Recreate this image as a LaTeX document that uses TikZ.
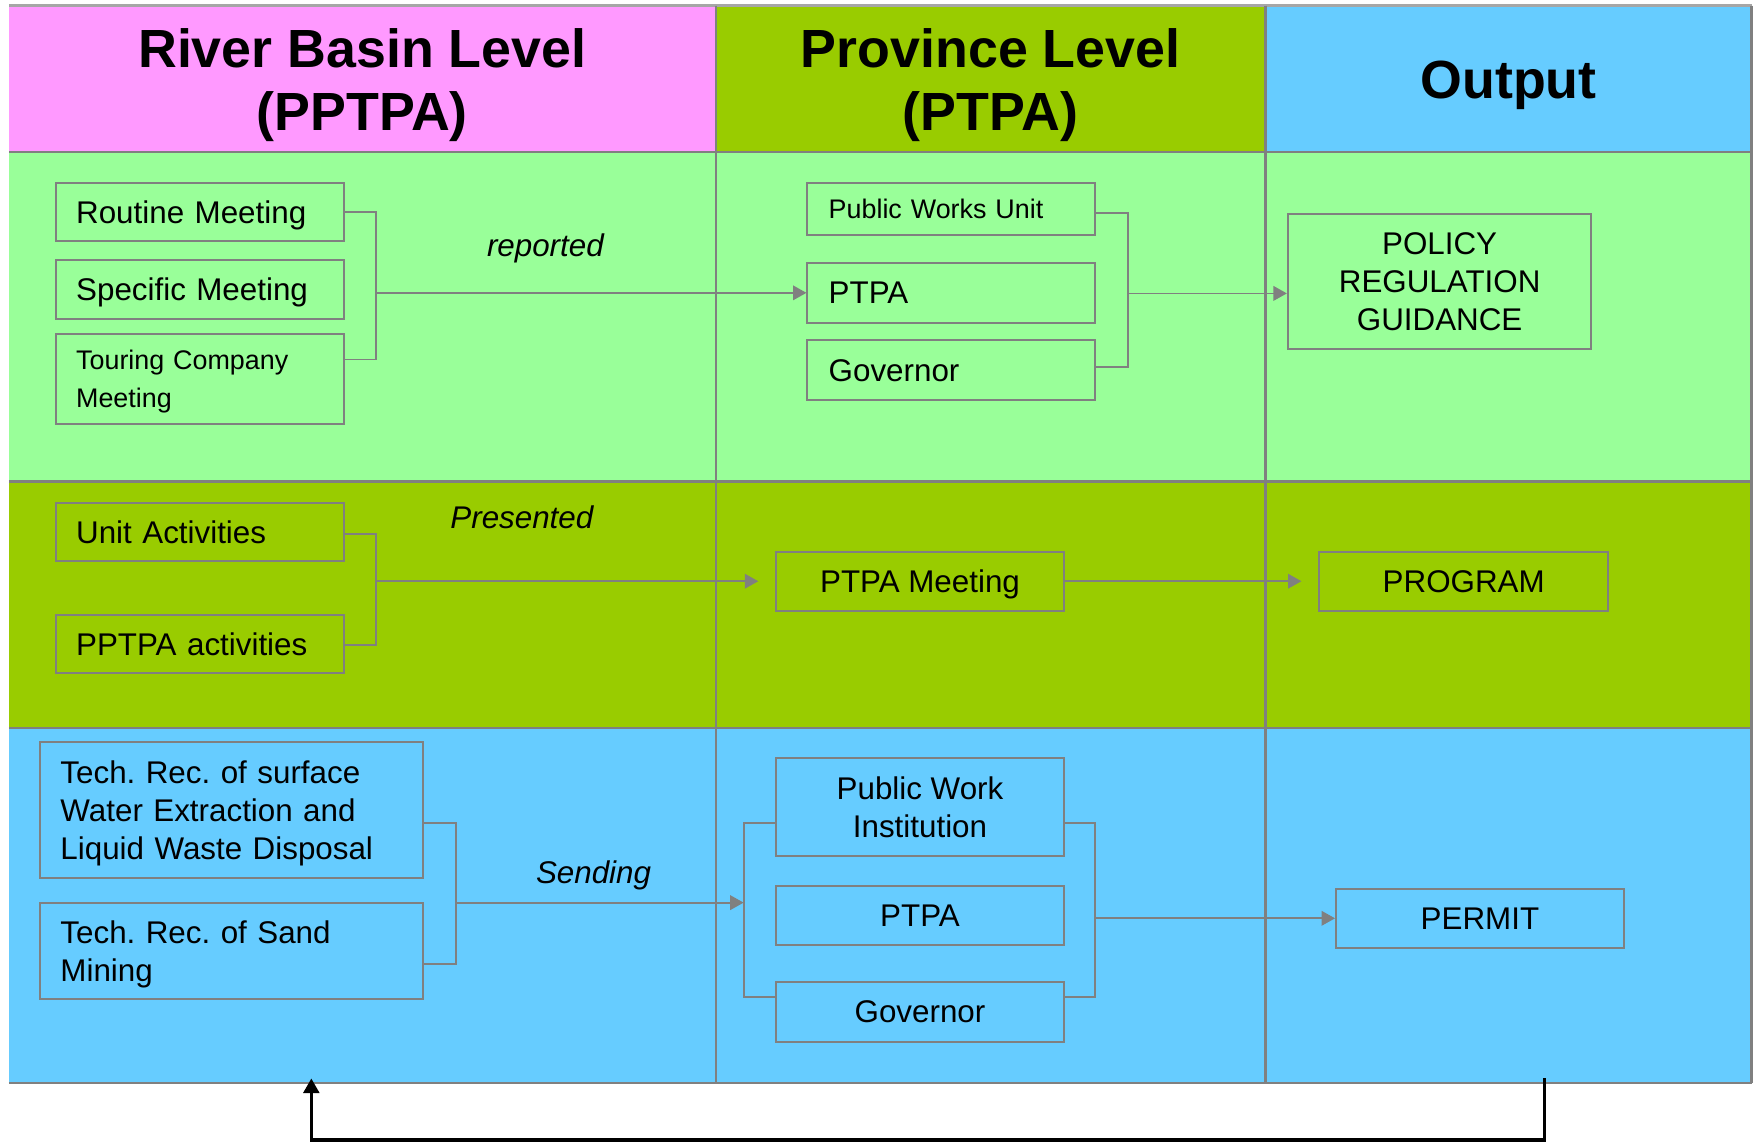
\documentclass[tikz,border=0pt]{standalone}
\usepackage{fontspec}
\setmainfont{Liberation Sans}
\usetikzlibrary{arrows.meta}
\definecolor{pinkh}{HTML}{FF99FF}
\definecolor{oliveg}{HTML}{99CC00}
\definecolor{skyb}{HTML}{66CCFF}
\definecolor{lgreen}{HTML}{99FF99}
\definecolor{gridc}{HTML}{808080}
\begin{document}
\frenchspacing
\begin{tikzpicture}[x=0.5pt,y=-0.5pt,
  gridline/.style={draw=gridc, line width=1pt},
  box/.style={draw=gridc, line width=0.9pt, rectangle, inner ysep=0pt, font=\fontsize{14}{17}\selectfont},
  lbox/.style={box, align=left, inner xsep=9pt, text width=110.5pt, minimum width=128.5pt},
  cbox/.style={box, align=center, inner xsep=0pt, minimum width=128.5pt},
  one/.style={text depth=0pt},
  two/.style={text depth=17pt},
  three/.style={text depth=34pt},
  conn/.style={draw=gridc, line width=0.8pt},
  arr/.style={conn, -{Triangle[length=6pt,width=6.5pt]}},
  lab/.style={font=\itshape\fontsize{14}{17}\selectfont},
  head/.style={font=\bfseries\fontsize{24}{28.5}\selectfont, align=center},
  fb/.style={draw=black, line width=1.4pt, -{Triangle[length=6.5pt,width=7pt]}}
]
\useasboundingbox (0,0) rectangle (1568,1020);
% fills
\fill[pinkh] (8,5) rectangle (639,136);
\fill[oliveg] (639,5) rectangle (1130,136);
\fill[skyb] (1130,5) rectangle (1564,136);
\fill[lgreen] (8,136) rectangle (1564,430);
\fill[oliveg] (8,430) rectangle (1564,650);
\fill[skyb] (8,650) rectangle (1564,967);
% grid
\draw[draw=gridc!70, line width=1pt] (8,5) -- (1564,5);
\draw[gridline] (8,136) -- (1564,136);
\draw[gridline] (8,430) -- (1564,430);
\draw[gridline] (8,650) -- (1564,650);
\draw[gridline] (8,967) -- (1564,967);
\draw[gridline] (639,5) -- (639,967);
\draw[gridline] (1130,5) -- (1130,967);
\draw[gridline] (1564,5) -- (1564,967);
% headers
\node[head] (h1) at (323.5,76) {River Basin Level\\(PPTPA)};
\node[head] (h2) at (884.5,76) {Province Level\\(PTPA)};
\node[head] (h3) at (1347,76) {Output};
% row 1
\node[lbox, one, minimum height=26pt] (rm) at (178.5,189) {Routine Meeting};
\node[lbox, one, minimum height=26.5pt] (sm) at (178.5,258.5) {Specific Meeting};
\node[lbox, two, minimum height=40.5pt, font=\fontsize{12}{17}\selectfont] (tc) at (178.5,338.5) {Touring Company\\Meeting};
\node[lbox, one, minimum height=23.5pt, inner xsep=9.5pt, text width=109.5pt, font=\fontsize{12}{15}\selectfont] (pwu) at (849.5,186.5) {Public Works Unit};
\node[lbox, one, minimum height=26.5pt, inner xsep=9.5pt, text width=109.5pt] (ptpa1) at (849.5,261.5) {PTPA};
\node[lbox, one, minimum height=26.5pt, inner xsep=9.5pt, text width=109.5pt] (gov1) at (849.5,330.5) {Governor};
\node[cbox, minimum width=135.5pt, minimum height=60.5pt] (policy) at (1285.5,251.5) {POLICY\\REGULATION\\GUIDANCE};
% row 2
\node[lbox, one, minimum height=26pt] (ua) at (178.5,475) {Unit Activities};
\node[lbox, one, minimum height=26pt] (pa) at (178.5,575) {PPTPA activities};
\node[cbox, one, minimum height=26.5pt] (ptpam) at (821.5,519) {PTPA Meeting};
\node[cbox, one, minimum width=129pt, minimum height=26.5pt] (prog) at (1307,519) {PROGRAM};
% row 3
\node[lbox, three, minimum width=171pt, text width=153pt, minimum height=60.5pt] (ts) at (207,723.5) {Tech. Rec. of surface\\Water Extraction and\\Liquid Waste Disposal};
\node[lbox, two, minimum width=171pt, text width=153pt, minimum height=43pt] (tsm) at (207,849) {Tech. Rec. of Sand\\Mining};
\node[cbox, minimum height=43.5pt] (pwi) at (821.5,720.5) {Public Work\\Institution};
\node[cbox, one, minimum height=26.5pt] (ptpa3) at (821.5,817.5) {PTPA};
\node[cbox, one, minimum height=26.5pt] (gov3) at (821.5,903.5) {Governor};
\node[cbox, one, minimum height=26.5pt] (permit) at (1321.5,820) {PERMIT};
% labels
\node[lab] (l1) at (487,222) {reported};
\node[lab] (l2) at (466,462) {Presented};
\node[lab] (l3) at (530,782) {Sending};
% row 1 connectors
\coordinate (j1a) at (336,189);
\coordinate (j1b) at (336,321);
\coordinate (j1m) at (336,261.5);
\draw[conn] (rm.east) -- (j1a) -- (j1b) -- (tc.east |- j1b);
\draw[arr] (j1m) -- (ptpa1.west);
\coordinate (j2a) at (1007,190);
\coordinate (j2b) at (1007,328);
\coordinate (j2m) at (1007,262);
\draw[conn] (pwu.east |- j2a) -- (j2a) -- (j2b) -- (gov1.east |- j2b);
\draw[arr] (j2m) -- (policy.west |- j2m);
% row 2 connectors
\coordinate (j3a) at (336,477);
\coordinate (j3b) at (336,576);
\coordinate (j3m) at (336,519);
\draw[conn] (ua.east |- j3a) -- (j3a) -- (j3b) -- (pa.east |- j3b);
\draw[arr, shorten >=7.5pt] (j3m) -- (ptpam.west);
\draw[arr, shorten >=7.5pt] (ptpam.east) -- (prog.west);
% row 3 connectors
\coordinate (j4a) at (407,735);
\coordinate (j4b) at (407,861);
\coordinate (j4m) at (407,806);
\draw[conn] (ts.east |- j4a) -- (j4a) -- (j4b) -- (tsm.east |- j4b);
\coordinate (k1a) at (664,735);
\coordinate (k1b) at (664,890);
\coordinate (k1m) at (664,806);
\draw[conn] (pwi.west |- k1a) -- (k1a) -- (k1b) -- (gov3.west |- k1b);
\draw[arr] (j4m) -- (k1m);
\coordinate (k2a) at (978,735);
\coordinate (k2b) at (978,890);
\coordinate (k2m) at (978,820);
\draw[conn] (pwi.east |- k2a) -- (k2a) -- (k2b) -- (gov3.east |- k2b);
\draw[arr] (k2m) -- (permit.west);
% feedback
\coordinate (fbs) at (1379,963);
\coordinate (fbe) at (278,963);
\draw[fb] (fbs) -- ++(0,55) -| (fbe);
\end{tikzpicture}
\end{document}
